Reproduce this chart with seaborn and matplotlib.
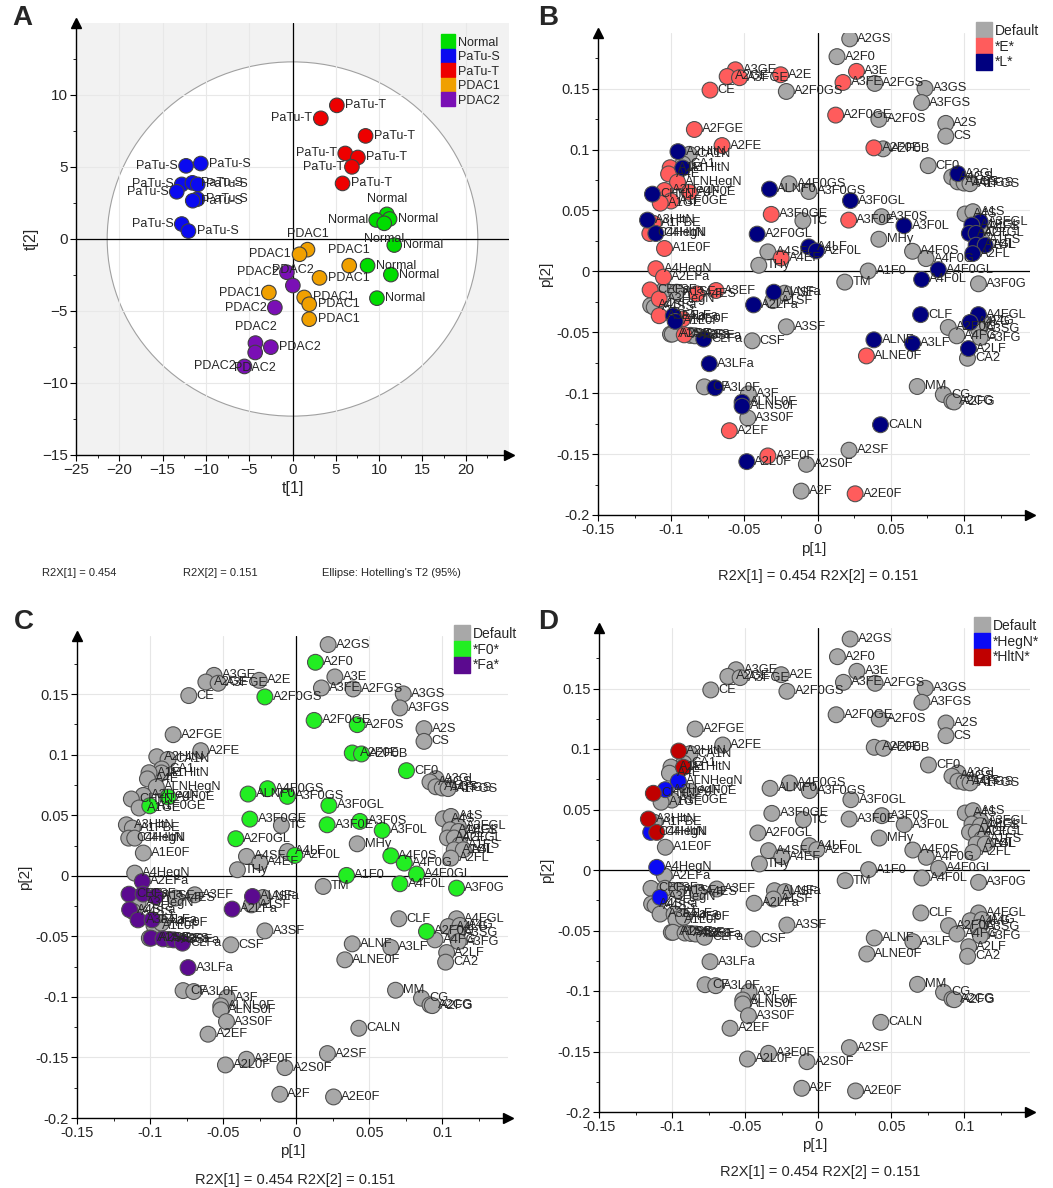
import pandas as pd
import matplotlib.pyplot as plt
import seaborn as sns
from matplotlib.patches import Ellipse
from matplotlib.lines import Line2D
from matplotlib.ticker import AutoMinorLocator, FuncFormatter

sns.set_theme(style="white")
plt.rcParams['font.family'] = ['Liberation Sans', 'DejaVu Sans']

# ---- scores (panel A) ----
score_group = ["PaTu-T"] * 7 + ["PaTu-S"] * 10 + ["Normal"] * 8 + ["PDAC1"] * 8 + ["PDAC2"] * 7
t1 = [5.12, 3.27, 8.44, 6.09, 7.55, 6.86, 5.78,
      -12.29, -10.59, -12.79, -11.56, -10.94, -13.37, -10.98, -11.52, -12.79, -12.02,
      10.9, 9.67, 11.21, 10.59, 11.75, 8.67, 11.36, 9.75,
      1.73, 0.81, 6.55, 3.12, -2.73, 1.35, 1.93, 1.93,
      -0.65, 0.04, -2.04, -4.28, -4.31, -2.50, -5.55]
t2 = [9.28, 8.38, 7.16, 5.94, 5.66, 5.01, 3.86,
      5.08, 5.24, 3.79, 3.90, 3.79, 3.28, 2.77, 2.66, 1.04, 0.55,
      1.71, 1.32, 1.39, 1.09, -0.42, -1.85, -2.47, -4.11,
      -0.74, -1.06, -1.85, -2.70, -3.72, -4.06, -4.53, -5.57,
      -2.31, -3.23, -4.76, -7.23, -7.88, -7.51, -8.85]
label_side = ["r", "l", "r", "l", "r", "l", "r",
              "l", "r", "l", "r", "r", "l", "r", "r", "l", "r",
              "t", "l", "r", "b", "r", "r", "r", "r",
              "t", "l", "t", "r", "l", "r", "r", "r",
              "l", "t", "l", "t", "b", "r", "l"]
score_groups = ["Normal", "PaTu-S", "PaTu-T", "PDAC1", "PDAC2"]
score_colors = ["#00DD00", "#0A0AF0", "#EE0000", "#F0A000", "#7A0FB5"]

# ---- loadings (panels B-D) ----
load_names = [
    "A3GE", "A2GE", "A3FGE", "A2E", "CE", "A2F0GS", "A2FGE", "A2FE",
    "A2GS", "A2F0", "A3E", "A3FE", "A2FGS", "A3GS", "A3FGS", "A2F0GE", "A2F0S", "A2S", "CS",
    "A2F0E", "A2F0B", "CF0",
    "A3GL", "A4GS", "A1GS", "A4FGS", "A1FGS",
    "A4S", "A1S", "A3FGL", "A1FGL", "A4FS", "A4GL", "A2FGL", "A1FS", "A1GL", "A4L", "A2FL",
    "A2HltN", "CA1N", "CA1", "A1HltN", "A1E", "A4E", "ALNHegN", "A4F0E", "A2HegN", "CHltN",
    "A1F0GE", "A1GE", "A3HltN", "A1FBE", "C4HegN", "C4HltN", "A1E0F", "A4HegN",
    "ALNF0", "A4F0GS", "A3F0GS", "A3F0GL", "A3F0GE", "TC", "A3F0E", "A3F0S", "A3F0L", "A2F0GL",
    "MHy", "A4LF", "A2F0L", "A4SF", "A4EF", "THy", "A1F0", "TM", "A4F0S", "A4F0G", "A4F0GL",
    "A4F0L", "A3F0G",
    "A2EFa", "CEFa", "CSFa", "A1SFa", "A4ES", "A3EF", "A3HegN", "A4SFa", "A4SS", "A3EFa",
    "A4LFa", "A1L0F", "A4E0F", "A1SS", "A2SFa", "A4EFa", "A3SS", "A3SFa", "CLFa", "A3LFa",
    "ALNFa", "ASF", "A1SF", "A2LFa", "A3SF", "CSF", "CF", "A3L0F", "A3F", "ALNL0F", "ALNS0F",
    "A3S0F", "A2EF", "A3E0F", "A2L0F", "A2S0F", "A2F", "A2E0F", "A2SF", "CALN",
    "ALNE0F", "ALNF", "A3LF", "CLF", "A4FGL", "A4LG", "A4G", "A2F0G", "A3SG", "A4FG", "A3FG",
    "A2LF", "CA2", "MM", "CG", "A2CG", "A2FG",
]
p1 = [
    -0.0562, -0.0618, -0.0534, -0.0253, -0.0735, -0.0214, -0.0842, -0.0653,
    0.0219, 0.0132, 0.0265, 0.0173, 0.039, 0.0733, 0.071, 0.0123, 0.0418, 0.0875, 0.0875,
    0.0384, 0.0447, 0.0755,
    0.0957, 0.0916, 0.0957, 0.1000, 0.1040,
    0.1007, 0.106, 0.111, 0.1053, 0.111, 0.1036, 0.1082, 0.1121, 0.1082, 0.1144, 0.1059,
    -0.0954, -0.0877, -0.092, -0.0922, -0.1007, -0.1018, -0.0957, -0.0877, -0.1046, -0.1128,
    -0.1002, -0.1075, -0.1162, -0.1121, -0.1146, -0.1105, -0.1046, -0.1105,
    -0.0329, -0.0196, -0.006, 0.0224, -0.0317, -0.0101, 0.0212, 0.0436, 0.0589, -0.0413,
    0.0418, -0.006, -0.0009, -0.034, -0.0249, -0.0402, 0.0345, 0.0185, 0.0648, 0.074, 0.0824,
    0.071, 0.1098,
    -0.1053, -0.1144, -0.1048, -0.0963, -0.0827, -0.0694, -0.1082, -0.114, -0.1116, -0.1082,
    -0.0986, -0.0973, -0.0922, -0.1005, -0.0993, -0.0911, -0.087, -0.0838, -0.0778, -0.074,
    -0.0299, -0.0226, -0.0306, -0.0438, -0.0214, -0.0447, -0.0774, -0.0701, -0.0473, -0.0516,
    -0.0516, -0.0477, -0.0603, -0.034, -0.0484, -0.0077, -0.0112, 0.0256, 0.0214, 0.0429,
    0.0333, 0.0384, 0.0648, 0.0703, 0.1098, 0.1041, 0.1121, 0.0892, 0.1098, 0.095, 0.111,
    0.103, 0.1023, 0.068, 0.0858, 0.0916, 0.0932,
]
p2 = [
    0.1655, 0.160, 0.159, 0.1614, 0.1488, 0.1477, 0.1165, 0.1033,
    0.1909, 0.1763, 0.1642, 0.1551, 0.1543, 0.1502, 0.1386, 0.1283, 0.1248, 0.1215, 0.111,
    0.1014, 0.1006, 0.0868,
    0.0802, 0.0775, 0.0735, 0.0725, 0.0720,
    0.0471, 0.049, 0.0407, 0.038, 0.0366, 0.0312, 0.0312, 0.0256, 0.0215, 0.0215, 0.0146,
    0.0983, 0.0961, 0.0882, 0.0849, 0.0851, 0.080, 0.0733, 0.065, 0.0664, 0.0634,
    0.0578, 0.056, 0.0421, 0.0394, 0.0311, 0.0311, 0.0188, 0.0022,
    0.0675, 0.0719, 0.0656, 0.0581, 0.0468, 0.0416, 0.0421, 0.0449, 0.0375, 0.0306,
    0.0264, 0.0201, 0.0168, 0.016, 0.011, 0.005, 0.0003, -0.0088, 0.0165, 0.0105, 0.0014,
    -0.0066, -0.0102,
    -0.0047, -0.0152, -0.0151, -0.0171, -0.0184, -0.0157, -0.0226, -0.028, -0.0295, -0.0364,
    -0.0364, -0.0411, -0.0391, -0.0515, -0.0515, -0.0521, -0.0525, -0.0529, -0.0556, -0.0758,
    -0.0171, -0.0179, -0.024, -0.0275, -0.0455, -0.057, -0.0948, -0.0956, -0.1006, -0.1074,
    -0.1107, -0.1204, -0.1308, -0.1515, -0.1562, -0.1584, -0.1804, -0.1826, -0.1468, -0.1259,
    -0.0694, -0.0562, -0.0592, -0.0355, -0.0355, -0.0419, -0.041, -0.046, -0.0474, -0.0529, -0.0543,
    -0.0634, -0.0713, -0.0945, -0.1011, -0.1066, -0.1072,
]


def group_b(n):
    if "E" in n.upper():
        return "*E*"
    if "L" in n.upper():
        return "*L*"
    return "Default"


def group_c(n):
    if "F0" in n:
        return "*F0*"
    if "Fa" in n:
        return "*Fa*"
    return "Default"


def group_d(n):
    if "HegN" in n:
        return "*HegN*"
    if "HltN" in n:
        return "*HltN*"
    return "Default"


fig = plt.figure(figsize=(10.53, 11.88), dpi=100)
W, H = 1053, 1188


def add_axes(l, r, b, t):
    return fig.add_axes([l / W, 1 - b / H, (r - l) / W, (b - t) / H])


def style_axes(ax):
    for s in ["top", "right"]:
        ax.spines[s].set_visible(False)
    for s in ["left", "bottom"]:
        ax.spines[s].set_color("black")
        ax.spines[s].set_linewidth(1.0)
    ax.tick_params(which="major", direction="out", length=4, width=0.8, color="black",
                   left=True, bottom=True, pad=2)
    ax.tick_params(which="minor", direction="out", length=2.5, width=0.6, color="black",
                   left=True, bottom=True)
    ax.xaxis.set_minor_locator(AutoMinorLocator(2))
    ax.yaxis.set_minor_locator(AutoMinorLocator(2))
    ax.plot([1], [0], marker=">", color="black", markersize=7, transform=ax.transAxes, clip_on=False)
    ax.plot([0], [1], marker="^", color="black", markersize=7, transform=ax.transAxes, clip_on=False)
    ax.axhline(0, color="black", lw=0.9, zorder=1.5)
    ax.axvline(0, color="black", lw=0.9, zorder=1.5)


fmt = FuncFormatter(lambda v, pos: f"{round(v, 3):g}")

# ---------------- Panel A ----------------
axA = add_axes(76, 509, 455, 23)
axA.set_facecolor("#F2F2F2")
axA.add_patch(Ellipse((0, 0), 2 * 21.4, 2 * 12.3, facecolor="white", edgecolor="#A0A0A0",
                      lw=0.8, zorder=0.5))
axA.grid(True, color="#E8E8E8", lw=0.8, zorder=0.8)
axA.set_axisbelow(True)
dfA = pd.DataFrame({"t1": t1, "t2": t2, "grp": score_group})
sns.scatterplot(data=dfA, x="t1", y="t2", hue="grp", hue_order=score_groups,
                palette=dict(zip(score_groups, score_colors)), s=110, edgecolor="#404040",
                linewidth=0.8, legend=False, ax=axA, zorder=3)
offs = {"r": ((6, 0), "left", "center"), "l": ((-6, 0), "right", "center"),
        "t": ((0, 7), "center", "bottom"), "b": ((0, -7), "center", "top")}
for g, x, y, sd in zip(score_group, t1, t2, label_side):
    o, ha, va = offs[sd]
    axA.annotate(g, (x, y), xytext=o, textcoords="offset points", ha=ha, va=va,
                 fontsize=9, zorder=4)
axA.set_xlim(-25, 25)
axA.set_ylim(-15, 15)
axA.set_xticks(range(-25, 21, 5))
axA.set_yticks(range(-15, 11, 5))
style_axes(axA)
axA.tick_params(labelsize=11)
axA.set_xlabel("t[1]", fontsize=11.5, labelpad=3)
axA.set_ylabel("t[2]", fontsize=11.5, labelpad=2)
hA = [Line2D([], [], marker="s", ls="", markersize=10, markerfacecolor=c, markeredgecolor=c, label=g)
      for g, c in zip(score_groups, score_colors)]
axA.legend(handles=hA, loc="upper right", bbox_to_anchor=(0.99, 0.98), frameon=False,
           fontsize=9, handletextpad=0.3, labelspacing=0.2, handlelength=1.0, borderaxespad=0)
fig.text(42 / W, 1 - 573 / H, "R2X[1] = 0.454", fontsize=8, va="center")
fig.text(183 / W, 1 - 573 / H, "R2X[2] = 0.151", fontsize=8, va="center")
fig.text(322 / W, 1 - 573 / H, "Ellipse: Hotelling's T2 (95%)", fontsize=8, va="center")


# ---------------- Loadings panels ----------------
def loading_panel(ax, grp_fn, order, colors, ytop):
    df = pd.DataFrame({"name": load_names, "p1": p1, "p2": p2})
    df["grp"] = [grp_fn(n) for n in load_names]
    df["rank"] = df["grp"].map({g: i for i, g in enumerate(order)})
    df = df.sort_values("rank", kind="stable")
    pal = dict(zip(order, colors))
    ax.grid(True, color="#E6E6E6", lw=0.8)
    ax.set_axisbelow(True)
    sns.scatterplot(data=df, x="p1", y="p2", hue="grp", hue_order=order, palette=pal,
                    s=130, edgecolor="#505050", linewidth=0.8, legend=False, ax=ax, zorder=3)
    for n, x, y in zip(df["name"], df["p1"], df["p2"]):
        ax.annotate(n, (x, y), xytext=(5.5, 0), textcoords="offset points", ha="left",
                    va="center", fontsize=9.3, zorder=4)
    ax.set_xlim(-0.15, 0.145)
    ax.set_ylim(-0.2, ytop)
    ax.set_xticks([-0.15, -0.1, -0.05, 0, 0.05, 0.1])
    ax.set_yticks([-0.2, -0.15, -0.1, -0.05, 0, 0.05, 0.1, 0.15])
    ax.xaxis.set_major_formatter(fmt)
    ax.yaxis.set_major_formatter(fmt)
    style_axes(ax)
    ax.tick_params(labelsize=10.5)
    ax.set_xlabel("p[1]", fontsize=11, labelpad=3)
    ax.set_ylabel("p[2]", fontsize=11, labelpad=2)
    handles = [Line2D([], [], marker="s", ls="", markersize=12, markerfacecolor=c,
                      markeredgecolor=c, label=g) for g, c in zip(order, colors)]
    ax.legend(handles=handles, loc="upper right", bbox_to_anchor=(1.035, 1.03), frameon=False,
              fontsize=10, handletextpad=0.3, labelspacing=0.12, handlelength=1.0,
              borderaxespad=0)


axB = add_axes(598, 1030, 515, 33)
loading_panel(axB, group_b, ["Default", "*E*", "*L*"], ["#A8A8A8", "#FF5C5C", "#00007F"], 0.1957)
axC = add_axes(77, 508, 1118, 636)
loading_panel(axC, group_c, ["Default", "*F0*", "*Fa*"], ["#A8A8A8", "#22EE22", "#5B0A8F"], 0.198)
axD = add_axes(599, 1030, 1112, 628)
loading_panel(axD, group_d, ["Default", "*HegN*", "*HltN*"], ["#A8A8A8", "#0A0AF5", "#C00000"], 0.2)

fig.text(818 / W, 1 - 576 / H, "R2X[1] = 0.454 R2X[2] = 0.151", fontsize=10.5, ha="center", va="center")
fig.text(295 / W, 1 - 1180 / H, "R2X[1] = 0.454 R2X[2] = 0.151", fontsize=10.5, ha="center", va="center")
fig.text(820 / W, 1 - 1172 / H, "R2X[1] = 0.454 R2X[2] = 0.151", fontsize=10.5, ha="center", va="center")

for lab, x, y in [("A", 12, 18), ("B", 538, 18), ("C", 14, 622), ("D", 538, 622)]:
    fig.text(x / W, 1 - y / H, lab, fontsize=20, fontweight="bold", va="center")

fig.savefig("out.png", dpi=100)
